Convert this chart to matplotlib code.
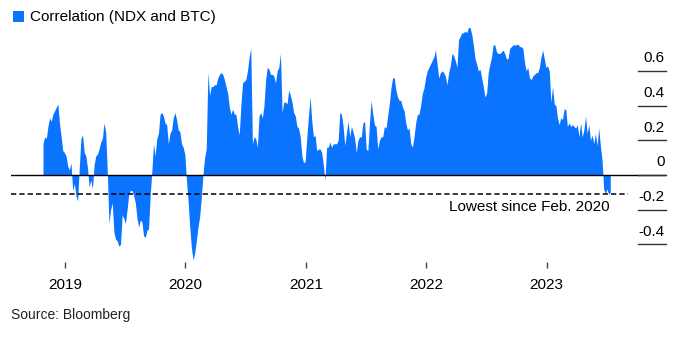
import numpy as np
import pandas as pd
import matplotlib
matplotlib.use("Agg")
import matplotlib.pyplot as plt
import matplotlib.dates as mdates
from matplotlib.patches import Rectangle

# 5-day samples of the rolling NDX / BTC correlation, starting late Oct 2018
start_date = "2018-10-27"
corr = [
    0.18, 0.22, 0.21, 0.28, 0.33, 0.31, 0.35, 0.37, 0.39, 0.41,
    0.30, 0.22, 0.14, 0.13, 0.11, 0.05, 0.03, 0.07, -0.09, -0.05,
    -0.12, -0.15, 0.04, 0.21, 0.23, 0.13, 0.11, 0.04, -0.07, -0.03,
    -0.08, 0.06, 0.11, 0.12, 0.15, 0.19, 0.21, 0.30, 0.25, 0.02,
    -0.28, -0.20, -0.16, -0.33, -0.37, -0.38, -0.41, -0.40, -0.23, -0.25,
    -0.28, -0.20, -0.11, -0.09, -0.09, -0.12, -0.16, -0.25, -0.30, -0.26,
    -0.27, -0.35, -0.36, -0.32, -0.31, -0.12, 0.02, 0.18, 0.11, 0.21,
    0.24, 0.35, 0.36, 0.34, 0.30, 0.29, 0.18, 0.24, 0.26, 0.33,
    0.36, 0.32, 0.26, 0.25, 0.18, 0.16, 0.12, -0.03, -0.15, -0.30,
    -0.42, -0.49, -0.45, -0.38, -0.30, -0.24, -0.13, 0.00, 0.10, 0.15,
    0.59, 0.46, 0.51, 0.51, 0.52, 0.52, 0.56, 0.58, 0.59, 0.58,
    0.55, 0.51, 0.47, 0.39, 0.35, 0.38, 0.35, 0.35, 0.28, 0.23,
    0.40, 0.53, 0.54, 0.55, 0.60, 0.68, 0.73, 0.18, 0.22, 0.21,
    0.16, 0.34, 0.36, 0.33, 0.40, 0.55, 0.62, 0.61, 0.58, 0.58,
    0.57, 0.53, 0.60, 0.62, 0.70, 0.36, 0.42, 0.42, 0.41, 0.49,
    0.46, 0.42, 0.36, 0.34, 0.28, 0.27, 0.22, 0.11, 0.07, 0.08,
    0.22, 0.34, 0.45, 0.31, 0.22, 0.23, 0.14, 0.15, 0.15, 0.13,
    0.06, -0.03, 0.16, 0.16, 0.19, 0.16, 0.18, 0.18, 0.18, 0.20,
    0.36, 0.35, 0.28, 0.17, 0.24, 0.31, 0.22, 0.28, 0.25, 0.21,
    0.13, 0.20, 0.22, 0.22, 0.30, 0.31, 0.15, 0.14, 0.30, 0.43,
    0.35, 0.29, 0.28, 0.15, 0.20, 0.22, 0.22, 0.28, 0.27, 0.34,
    0.41, 0.50, 0.56, 0.56, 0.49, 0.45, 0.43, 0.43, 0.39, 0.37,
    0.30, 0.26, 0.27, 0.18, 0.16, 0.22, 0.30, 0.35, 0.35, 0.40,
    0.47, 0.50, 0.56, 0.60, 0.62, 0.64, 0.66, 0.68, 0.72, 0.64,
    0.56, 0.59, 0.60, 0.59, 0.57, 0.52, 0.59, 0.63, 0.70, 0.69,
    0.66, 0.62, 0.78, 0.80, 0.82, 0.82, 0.83, 0.82, 0.85, 0.85,
    0.81, 0.75, 0.67, 0.64, 0.60, 0.61, 0.56, 0.51, 0.45, 0.47,
    0.59, 0.64, 0.68, 0.75, 0.75, 0.71, 0.70, 0.70, 0.71, 0.72,
    0.70, 0.67, 0.67, 0.73, 0.74, 0.75, 0.75, 0.75, 0.755, 0.74,
    0.74, 0.73, 0.65, 0.60, 0.62, 0.56, 0.55, 0.57, 0.58, 0.59,
    0.59, 0.62, 0.68, 0.72, 0.67, 0.62, 0.63, 0.60, 0.42, 0.51,
    0.41, 0.40, 0.33, 0.29, 0.33, 0.32, 0.38, 0.38, 0.28, 0.30,
    0.28, 0.29, 0.28, 0.27, 0.29, 0.22, 0.30, 0.22, 0.26, 0.34,
    0.24, 0.29, 0.20, 0.23, 0.18, 0.24, 0.17, 0.27, 0.17, 0.09,
    -0.08, -0.11, -0.08, -0.11, -0.10,
]
dates = pd.date_range(start_date, periods=len(corr), freq="5D")

low_level = -0.11
ytick_vals = [0.6, 0.4, 0.2, 0, -0.2, -0.4]
ytick_labels = ["0.6", "0.4", "0.2", "0", "-0.2", "-0.4"]
years = ["2019", "2020", "2021", "2022", "2023"]

blue = "#0a74ff"
plt.rcParams["font.family"] = ["Liberation Sans", "DejaVu Sans"]
plt.rcParams["lines.scale_dashes"] = False

W, H = 691, 345
fig = plt.figure(figsize=(W / 100, H / 100), dpi=100)
ax = fig.add_axes([11 / W, 1 - 262 / H, 655 / W, 237 / H])

ax.fill_between(dates, corr, 0, color=blue, lw=0)

ax.set_xlim(pd.Timestamp("2018-07-22"), pd.Timestamp("2023-12-29"))
ax.set_ylim(-0.5014, 0.8646)

# zero line across the full width, dashed marker at the recent low
ax.axhline(0, color="black", lw=1.0, zorder=3)
ax.axhline(low_level, xmax=(628 - 11) / 655, color="black", lw=1.1,
           dashes=(3.8, 2.2), zorder=3)
ax.annotate("Lowest since Feb. 2020", xy=(dates[-1], low_level),
            xytext=(-0.5, -12.3), textcoords="offset points",
            ha="right", va="baseline", fontsize=11, color="black")

# right-hand value scale: short rules with labels sitting on top
ytrans = ax.get_yaxis_transform()
for v, lab in zip(ytick_vals, ytick_labels):
    ax.plot([(638 - 11) / 655, 1.0], [v, v], transform=ytrans,
            color="#333333", lw=1.0, clip_on=False, zorder=3)
    ax.annotate(lab, xy=(1.0, v), xycoords=ytrans, xytext=(-0.8, 6.3),
                textcoords="offset points", ha="right", va="baseline",
                fontsize=11, color="black")

for s in ax.spines.values():
    s.set_visible(False)
ax.set_yticks([])
ax.set_xticks([pd.Timestamp(f"{y}-01-01") for y in years])
ax.xaxis.set_major_formatter(mdates.DateFormatter("%Y"))
ax.tick_params(axis="x", length=4, width=1, color="#444444",
               pad=7.5, labelsize=11, labelcolor="black")

# legend key
fig.add_artist(Rectangle((13 / W, 1 - 22 / H), 11 / W, 11 / H,
                         transform=fig.transFigure, color=blue, lw=0))
fig.text(30 / W, 1 - 16.5 / H, "Correlation (NDX and BTC)",
         ha="left", va="center", fontsize=11, color="black")

fig.text(11 / W, 1 - 315 / H, "Source: Bloomberg",
         ha="left", va="center", fontsize=10, color="#222222")

fig.savefig("out.png", dpi=100)
